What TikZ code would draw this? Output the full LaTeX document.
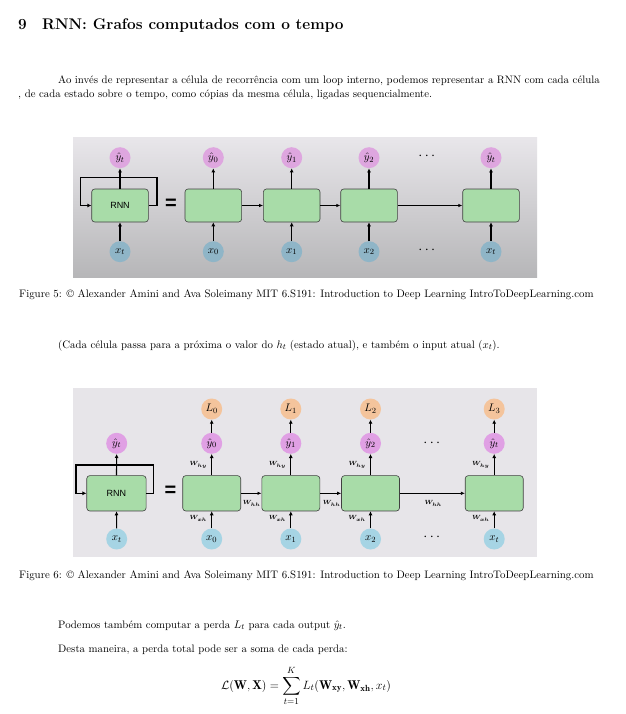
\documentclass[tikz,border=0pt]{standalone}
\usepackage{amsmath}
\usepackage{amsfonts}
\usepackage{bm}
\usepackage{xcolor}
\usepackage{fontspec}
\newfontfamily\arialfont{Liberation Sans}
\usetikzlibrary{arrows, arrows.meta}

\definecolor{cellgreen}{RGB}{168,220,168}
\definecolor{ypinkA}{RGB}{222,166,223}
\definecolor{xblueA}{RGB}{143,181,199}
\definecolor{ypinkB}{RGB}{224,160,228}
\definecolor{xblueB}{RGB}{166,212,228}
\definecolor{lorange}{RGB}{244,196,156}
\definecolor{bgtop}{RGB}{232,230,234}
\definecolor{bgbot}{RGB}{182,182,184}
\definecolor{bgflat}{RGB}{231,229,233}

\tikzset{
  cell/.style={draw=black!75, fill=cellgreen, rounded corners=3pt, line width=0.6pt, minimum width=56.6pt, minimum height=33pt, inner sep=0pt},
  ball/.style={circle, minimum size=21pt, inner sep=0pt, font=\fontsize{11}{12}\selectfont},
  up/.style={-{Latex[length=4pt,width=4pt]}, line width=1.1pt},
  hh/.style={-{Latex[length=4pt,width=3.5pt]}, line width=0.7pt},
  loopline/.style={line width=1.5pt},
  wlab/.style={font=\fontsize{6}{7}\selectfont, inner sep=0pt},
  txt/.style={anchor=base west, inner sep=0pt, font=\fontsize{10.8}{13}\selectfont},
  eqsign/.style={font=\arialfont\bfseries\fontsize{20}{20}\selectfont, inner sep=0pt}
}

\begin{document}
\begin{tikzpicture}[x=1pt,y=-1pt]
\useasboundingbox[fill=white] (0,0) rectangle (625,714);

\node[anchor=base west, inner sep=0pt, font=\fontsize{15.4}{18}\selectfont\bfseries] (secnum) at (18,30) {9};
\node[anchor=base west, inner sep=0pt, font=\fontsize{15.4}{18}\selectfont\bfseries] (sectitle) at (42,30) {RNN: Grafos computados com o tempo};

\node[txt] (par1a) at (58,84) {Ao invés de representar a célula de recorrência com um loop interno, podemos representar a RNN com cada célula};
\node[txt] (par1b) at (18,98) {, de cada estado sobre o tempo, como cópias da mesma célula, ligadas sequencialmente.};

% figura 5
\shade[top color=bgtop, middle color=bgtop!85!bgbot, bottom color=bgbot] (73,138) rectangle (537,277);

\node[cell, font=\arialfont\small] (rnnA) at (120,205.5) {RNN};
\node[ball, fill=ypinkA] (yhatA) at (120,157.7) {$\hat{y}_t$};
\node[ball, fill=xblueA] (xA) at (120,251.7) {$x_t$};
\draw[up] (xA) -- (rnnA);
\draw[up] (rnnA) -- (yhatA);
\coordinate (loopRA) at (157,177.7);
\coordinate (loopLA) at (80.7,177.7);
\draw[loopline, -{Latex[length=4pt,width=4pt]}] (rnnA.east) -| (loopRA) -- (loopLA) |- (rnnA.west);
\node[eqsign] (eqA) at (171,204) {=};

\foreach \i/\cx/\lab in {0/213.3/0, 1/291.7/1, 2/369/2, 3/491/t} {
  \node[cell] (cellA\i) at (\cx,205.5) {};
  \node[ball, fill=ypinkA] (yA\i) at (\cx,157.7) {$\hat{y}_{\lab}$};
  \node[ball, fill=xblueA] (xA\i) at (\cx,251.7) {$x_{\lab}$};
  \draw[up] (xA\i) -- (cellA\i);
  \draw[up] (cellA\i) -- (yA\i);
}
\draw[hh] (cellA0) -- (cellA1);
\draw[hh] (cellA1) -- (cellA2);
\draw[hh] (cellA2) -- (cellA3);
\node[font=\Large, inner sep=0pt] (dotsAy) at (428,156) {$\cdots$};
\node[font=\Large, inner sep=0pt] (dotsAx) at (428,250) {$\cdots$};

\node[anchor=base west, inner sep=0pt, font=\fontsize{10.85}{13}\selectfont] (cap5) at (19,297) {Figure 5: \textcopyright{} Alexander Amini and Ava Soleimany MIT 6.S191: Introduction to Deep Learning IntroToDeepLearning.com};

\node[txt] (par2) at (58,348) {(Cada célula passa para a próxima o valor do $h_t$ (estado atual), e também o input atual ($x_t$).};

% figura 6
\fill[bgflat] (73,388) rectangle (537,557);

\node[cell, font=\arialfont\small, minimum width=59.3pt, minimum height=35.3pt] (rnnB) at (116.4,493.3) {RNN};
\node[ball, fill=ypinkB] (yhatB) at (116.7,443.3) {$\hat{y}_t$};
\node[ball, fill=xblueB] (xB) at (116.7,539) {$x_t$};
\draw[up] (xB) -- (rnnB);
\draw[up] (rnnB) -- (yhatB);
\coordinate (loopRB) at (153.3,465);
\coordinate (loopLB) at (76,465);
\draw[loopline, -{Latex[length=4pt,width=4pt]}] (rnnB.east) -| (loopRB) -- (loopLB) |- (rnnB.west);
\node[eqsign] (eqB) at (170.5,491.7) {=};

\foreach \i/\cx/\lab/\lL in {0/211.7/0/0, 1/290.8/1/1, 2/370.5/2/2, 3/494.2/t/3} {
  \node[cell, minimum width=58pt, minimum height=35.3pt] (cellB\i) at (\cx,493.3) {};
  \node[ball, fill=ypinkB] (yB\i) at (\cx,443.3) {$\hat{y}_{\lab}$};
  \node[ball, fill=xblueB] (xB\i) at (\cx,539) {$x_{\lab}$};
  \node[ball, fill=lorange] (lB\i) at (\cx,409) {$L_{\lL}$};
  \draw[up] (xB\i) -- (cellB\i);
  \draw[up] (cellB\i) -- (yB\i);
  \draw[up] (yB\i) -- (lB\i);
  \node[wlab] (whyB\i) at (\cx-13.4,465) {$\bm{W_{hy}}$};
  \node[wlab] (wxhB\i) at (\cx-13.4,518.3) {$\bm{W_{xh}}$};
}
\draw[hh] (cellB0) -- (cellB1);
\draw[hh] (cellB1) -- (cellB2);
\draw[hh] (cellB2) -- (cellB3);
\node[wlab] (whhB0) at (251.7,503.3) {$\bm{W_{hh}}$};
\node[wlab] (whhB1) at (331.7,503.3) {$\bm{W_{hh}}$};
\node[wlab] (whhB2) at (433.3,503.3) {$\bm{W_{hh}}$};
\node[font=\Large, inner sep=0pt] (dotsBy) at (433,443) {$\cdots$};
\node[font=\Large, inner sep=0pt] (dotsBx) at (433,537) {$\cdots$};

\node[anchor=base west, inner sep=0pt, font=\fontsize{10.85}{13}\selectfont] (cap6) at (19,578) {Figure 6: \textcopyright{} Alexander Amini and Ava Soleimany MIT 6.S191: Introduction to Deep Learning IntroToDeepLearning.com};

\node[txt] (par3) at (58,628) {Podemos também computar a perda $L_t$ para cada output $\hat{y}_t$.};
\node[txt] (par4) at (58,652) {Desta maneira, a perda total pode ser a soma de cada perda:};
\node[anchor=base, inner sep=0pt, font=\fontsize{12.7}{15}\selectfont] (lossEq) at (306,689) {$\displaystyle \mathcal{L}(\mathbf{W},\mathbf{X}) = \sum_{t=1}^{K} L_t(\mathbf{W_{xy}},\mathbf{W_{xh}},x_t)$};
\end{tikzpicture}
\end{document}
